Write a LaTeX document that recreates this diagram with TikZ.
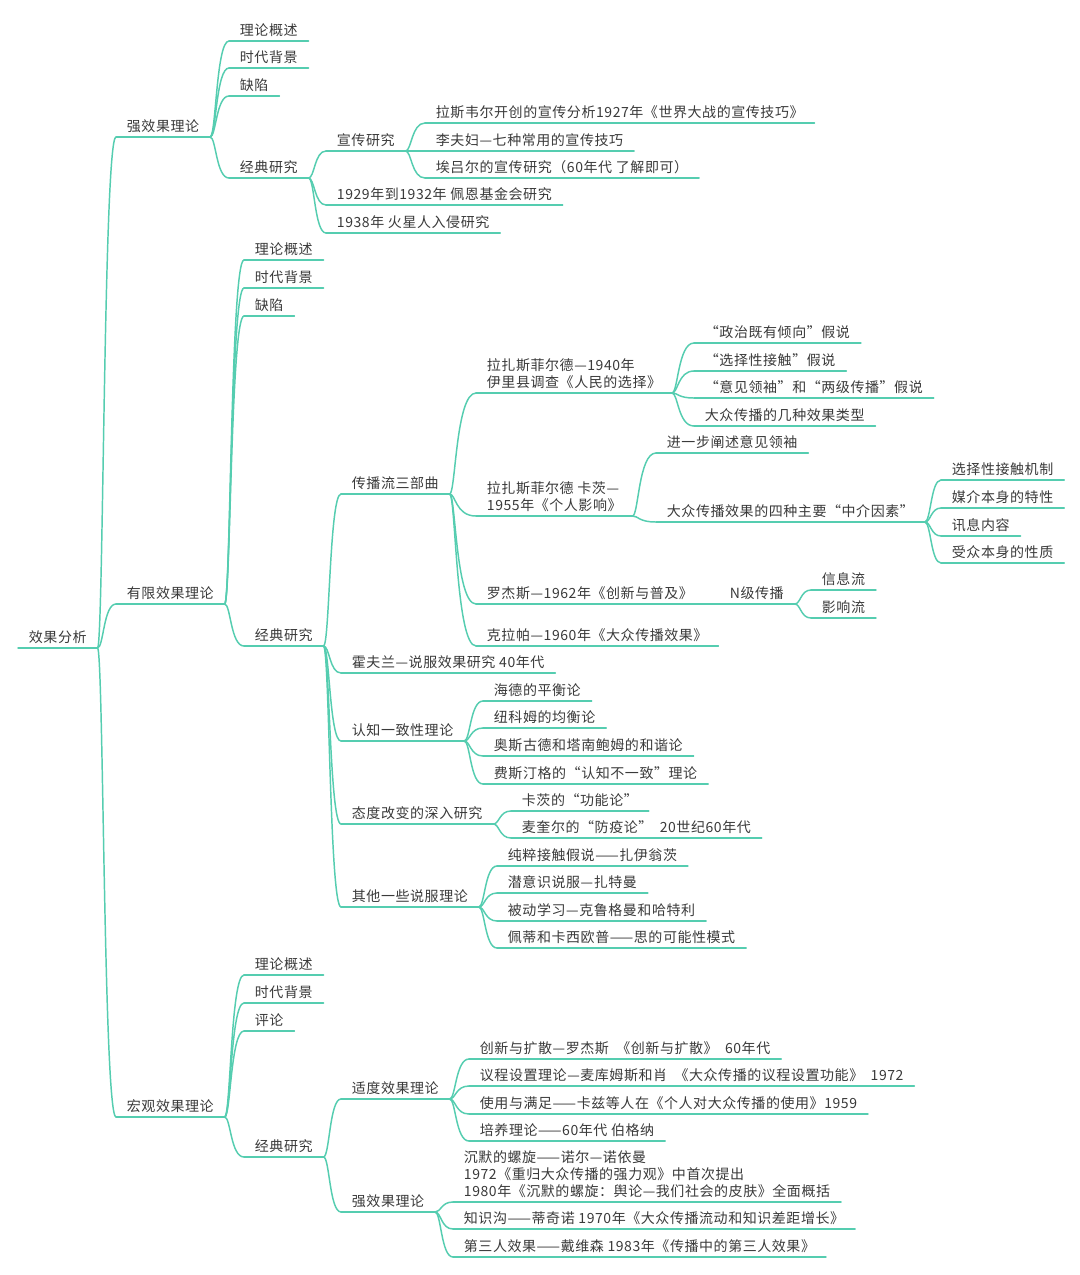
\documentclass[tikz,border=0pt]{standalone}
\usepackage{fontspec}
\newfontfamily\cjk[LetterSpace=4]{Noto Sans CJK SC}
\usetikzlibrary{calc}
\definecolor{brch}{HTML}{55CDB0}
\definecolor{txt}{HTML}{3A3A3A}
% a topic: text with a line under it
\newcommand\Topic[3]{%
	\node[topic] (#1) at (#2) {#3};
	\draw[uline] (#1.south west) -- (#1.south east);}
% a curved branch from the end of one line to the start of the next
\newcommand\Branch[2]{%
	\draw[uline] (#1.south east) .. controls +(6,0) and 
	($(#1.south east |- #2.south west)+(6,0)$) .. (#2.south west);}

\begin{document}
\begin{tikzpicture}[x=0.75pt,y=-0.75pt,
	topic/.style={anchor=south west,inner xsep=8pt,inner ysep=2.8pt,
		font=\cjk\fontsize{10.5}{12.75}\selectfont,text=txt,align=left},
	uline/.style={draw=brch,line width=1.1pt,line cap=round}]
	
	\path[use as bounding box,fill=white] (0,0) rectangle (1080,1275);
	
	% the root and the three theories
	\Topic{root}{18,648}{效果分析}
	\Topic{strong}{116,137}{强效果理论}
	\Topic{limited}{116,604}{有限效果理论}
	\Topic{macro}{116,1117}{宏观效果理论}
	
	% strong effects
	\Topic{strongA}{229,41}{理论概述}
	\Topic{strongB}{229,68}{时代背景}
	\Topic{strongC}{229,96}{缺陷}
	\Topic{strongD}{229,178}{经典研究}
	\Topic{prop}{326,151}{宣传研究}
	\Topic{payne}{326,205}{1929年到1932年 佩恩基金会研究}
	\Topic{mars}{326,233}{1938年 火星人入侵研究}
	\Topic{prop1}{425,123}{拉斯韦尔开创的宣传分析1927年《世界大战的宣传技巧》}
	\Topic{prop2}{425,151}{李夫妇—七种常用的宣传技巧}
	\Topic{prop3}{425,178}{埃吕尔的宣传研究（60年代 了解即可）}
	
	% limited effects
	\Topic{limA}{244,260}{理论概述}
	\Topic{limB}{244,288}{时代背景}
	\Topic{limC}{244,316}{缺陷}
	\Topic{limD}{244,646}{经典研究}
	\Topic{flow}{341,494}{传播流三部曲}
	\Topic{hovland}{341,673}{霍夫兰—说服效果研究 40年代}
	\Topic{cons}{341,741}{认知一致性理论}
	\Topic{att}{341,824}{态度改变的深入研究}
	\Topic{other}{341,907}{其他一些说服理论}
	
	\Topic{flow1}{476,393}{拉扎斯菲尔德—1940年\\伊里县调查《人民的选择》}
	\Topic{flow2}{476,516}{拉扎斯菲尔德 卡茨—\\1955年《个人影响》}
	\Topic{flow3}{476,604}{罗杰斯—1962年《创新与普及》}
	\Topic{flow4}{476,646}{克拉帕—1960年《大众传播效果》}
	\Topic{flow1a}{694,343}{“政治既有倾向”假说}
	\Topic{flow1b}{694,371}{“选择性接触”假说}
	\Topic{flow1c}{694,398}{“意见领袖”和“两级传播”假说}
	\Topic{flow1d}{694,426}{大众传播的几种效果类型}
	\Topic{flow2a}{656,453}{进一步阐述意见领袖}
	\Topic{flow2b}{656,522}{大众传播效果的四种主要“中介因素”}
	\Topic{flow2b1}{941,480}{选择性接触机制}
	\Topic{flow2b2}{941,508}{媒介本身的特性}
	\Topic{flow2b3}{941,536}{讯息内容}
	\Topic{flow2b4}{941,563}{受众本身的性质}
	\Topic{nstep}{719,604}{N级传播}
	\Topic{nstep1}{811,590}{信息流}
	\Topic{nstep2}{811,618}{影响流}
	
	\Topic{cons1}{483,701}{海德的平衡论}
	\Topic{cons2}{483,728}{纽科姆的均衡论}
	\Topic{cons3}{483,756}{奥斯古德和塔南鲍姆的和谐论}
	\Topic{cons4}{483,784}{费斯汀格的“认知不一致”理论}
	\Topic{att1}{511,811}{卡茨的“功能论”}
	\Topic{att2}{511,838}{麦奎尔的“防疫论”~~20世纪60年代}
	\Topic{other1}{497,866}{纯粹接触假说——扎伊翁茨}
	\Topic{other2}{497,893}{潜意识说服—扎特曼}
	\Topic{other3}{497,921}{被动学习—克鲁格曼和哈特利}
	\Topic{other4}{497,948}{佩蒂和卡西欧普——思的可能性模式}
	
	% macro effects
	\Topic{macA}{244,975}{理论概述}
	\Topic{macB}{244,1003}{时代背景}
	\Topic{macC}{244,1031}{评论}
	\Topic{macD}{244,1157}{经典研究}
	\Topic{mod}{341,1099}{适度效果理论}
	\Topic{strg}{341,1212}{强效果理论}
	\Topic{mod1}{469,1059}{创新与扩散—罗杰斯~~《创新与扩散》~~60年代}
	\Topic{mod2}{469,1086}{议程设置理论—麦库姆斯和肖~~《大众传播的议程设置功能》~~1972}
	\Topic{mod3}{469,1114}{使用与满足——卡兹等人在《个人对大众传播的使用》1959}
	\Topic{mod4}{469,1141}{培养理论——60年代 伯格纳}
	\Topic{strg1}{453,1202}{沉默的螺旋——诺尔—诺依曼\\1972《重归大众传播的强力观》中首次提出\\1980年《沉默的螺旋：舆论—我们社会的皮肤》全面概括}
	\Topic{strg2}{453,1229}{知识沟——蒂奇诺 1970年《大众传播流动和知识差距增长》}
	\Topic{strg3}{453,1257}{第三人效果——戴维森 1983年《传播中的第三人效果》}
	
	% we draw the branches
	\foreach \a/\b in {root/strong,root/limited,root/macro,
		strong/strongA,strong/strongB,strong/strongC,strong/strongD,
		strongD/prop,strongD/payne,strongD/mars,
		prop/prop1,prop/prop2,prop/prop3,
		limited/limA,limited/limB,limited/limC,limited/limD,
		limD/flow,limD/hovland,limD/cons,limD/att,limD/other,
		flow/flow1,flow/flow2,flow/flow3,flow/flow4,
		flow1/flow1a,flow1/flow1b,flow1/flow1c,flow1/flow1d,
		flow2/flow2a,flow2/flow2b,
		flow2b/flow2b1,flow2b/flow2b2,flow2b/flow2b3,flow2b/flow2b4,
		flow3/nstep,nstep/nstep1,nstep/nstep2,
		cons/cons1,cons/cons2,cons/cons3,cons/cons4,
		att/att1,att/att2,
		other/other1,other/other2,other/other3,other/other4,
		macro/macA,macro/macB,macro/macC,macro/macD,
		macD/mod,macD/strg,
		mod/mod1,mod/mod2,mod/mod3,mod/mod4,
		strg/strg1,strg/strg2,strg/strg3}
	{\Branch{\a}{\b}}
\end{tikzpicture}
\end{document}
